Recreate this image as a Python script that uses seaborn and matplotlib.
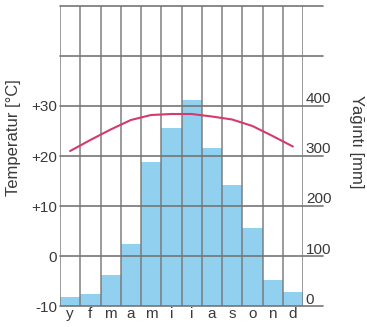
import numpy as np
import matplotlib
matplotlib.use("Agg")
import matplotlib.pyplot as plt
import seaborn as sns
from matplotlib.transforms import ScaledTranslation

# Climate data
months = ["y", "f", "m", "a", "m", "i", "i", "a", "s", "o", "n", "d"]
precip_mm = [19, 25, 62, 125, 288, 356, 412, 316, 242, 156, 52, 29]
temp_c = [21.0, 23.2, 25.3, 27.2, 28.2, 28.4, 28.4, 27.9, 27.3, 26.0, 24.0, 21.9]

temp_ticks = [-10, 0, 10, 20, 30]
temp_labels = ["-10", "0", "+10", "+20", "+30"]
precip_ticks = [0, 100, 200, 300, 400]
precip_labels = ["0", "100", "200", "300", "400"]

sns.set_theme(style="white")
plt.rcParams["font.family"] = ["Liberation Sans", "DejaVu Sans"]

fig = plt.figure(figsize=(3.67, 3.27), dpi=100)
ax = fig.add_axes([60 / 367, 21 / 327, 243 / 367, 300 / 327])
ax2 = ax.twinx()

# precipitation bars on the right axis
idx = np.arange(len(months))
sns.barplot(x=idx, y=precip_mm, ax=ax2, color="#91d0ee", width=1.0,
            saturation=1, edgecolor="none")
ax2.set_ylim(0, 600)

# temperature axis drawn on top of the bars
ax.set_zorder(ax2.get_zorder() + 1)
ax.patch.set_visible(False)
ax.set_ylim(-10, 50)

grid_col = "#757575"
for t in range(-10, 51, 10):
    ax.axhline(t, xmin=0, xmax=1.082, color=grid_col, lw=1.2, clip_on=False, zorder=1)
for b in np.arange(-0.5, len(months), 1):
    ax.axvline(b, color=grid_col, lw=1.2, alpha=0.85, zorder=1)

sns.lineplot(x=idx, y=temp_c, ax=ax, color="#d43a6b", lw=1.5, zorder=3)
ax.set_xlim(-0.5, 11.5)
ax2.set_xlim(-0.5, 11.5)

for a in (ax, ax2):
    for s in a.spines.values():
        s.set_visible(False)

txt_col = "#3a3a3a"
ax.set_yticks(temp_ticks)
ax.set_yticklabels(temp_labels)
ax.set_xticks(idx)
ax.set_xticklabels(months)
ax.tick_params(axis="y", length=0, pad=2, labelsize=11, colors=txt_col)
ax.tick_params(axis="x", length=0, pad=1, labelsize=11, colors=txt_col)

ax2.set_yticks(precip_ticks)
ax2.set_yticklabels(precip_labels)
ax2.tick_params(axis="y", length=0, pad=2, labelsize=11, colors=txt_col)
ax2.set_ylabel("")
shift = ScaledTranslation(0, 8 / 100, fig.dpi_scale_trans)
for lbl in ax2.get_yticklabels():
    lbl.set_transform(lbl.get_transform() + shift)

ax.set_ylabel("Temperatur [°C]", fontsize=12, color=txt_col, va="center")
ax.yaxis.set_label_coords(-0.19, 0.56)
ax2.set_ylabel("Yağıntı [mm]", fontsize=12, color=txt_col, rotation=270, va="center")
ax2.yaxis.set_label_coords(1.222, 0.547)

fig.savefig("out.png", dpi=100)
